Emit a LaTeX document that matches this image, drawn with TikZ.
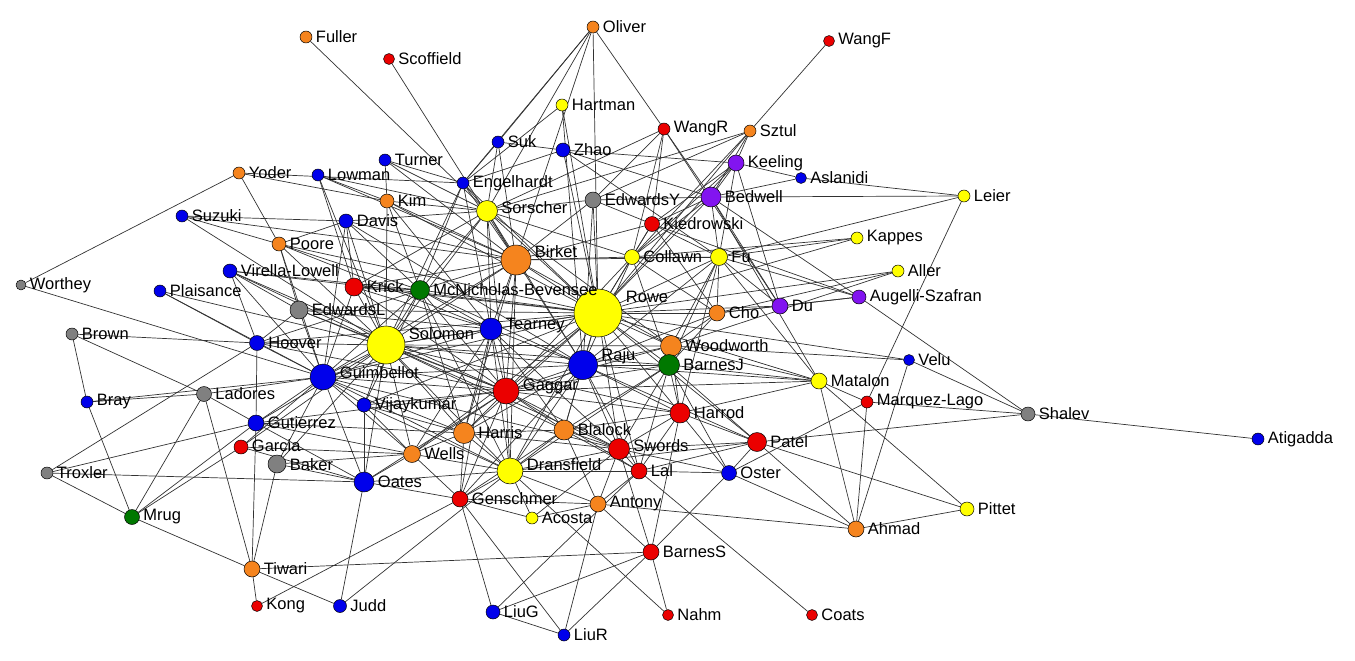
\documentclass[tikz,border=0pt]{standalone}
\usepackage{fontspec}
\setmainfont{Liberation Sans}
\usetikzlibrary{backgrounds,positioning}
\definecolor{cOrange}{RGB}{245,132,30}
\definecolor{cRed}{RGB}{235,0,0}
\definecolor{cBlue}{RGB}{0,0,235}
\definecolor{cYellow}{RGB}{255,255,0}
\definecolor{cGray}{RGB}{128,128,128}
\definecolor{cGreen}{RGB}{0,120,0}
\definecolor{cPurple}{RGB}{130,20,240}
\definecolor{cEdge}{RGB}{50,50,50}
\begin{document}
\begin{tikzpicture}[line cap=round,line join=round,x=1pt,y=-1pt,
  actor/.style={circle,draw=black,line width=0.5pt,inner sep=0pt},
  tie/.style={draw=cEdge,line width=0.7pt},
  lbl/.style={font=\fontsize{16.5}{18}\selectfont,inner sep=0.5pt,text=black}]
\useasboundingbox (0,0) rectangle (1355,661);
\node[actor,fill=cOrange,minimum size=12] (fuller) at (306,37) {};
\node[actor,fill=cRed,minimum size=11] (scoffield) at (389,59) {};
\node[actor,fill=cOrange,minimum size=12] (oliver) at (593,27) {};
\node[actor,fill=cRed,minimum size=11] (wangf) at (829,41) {};
\node[actor,fill=cYellow,minimum size=12] (hartman) at (562,105) {};
\node[actor,fill=cRed,minimum size=12] (wangr) at (664,129) {};
\node[actor,fill=cOrange,minimum size=12] (sztul) at (750,131) {};
\node[actor,fill=cBlue,minimum size=12] (suk) at (498,142) {};
\node[actor,fill=cBlue,minimum size=14] (zhao) at (563,150) {};
\node[actor,fill=cPurple,minimum size=16] (keeling) at (736,163) {};
\node[actor,fill=cBlue,minimum size=11] (aslanidi) at (801,178) {};
\node[actor,fill=cBlue,minimum size=12] (turner) at (385,160) {};
\node[actor,fill=cOrange,minimum size=12] (yoder) at (239,173) {};
\node[actor,fill=cBlue,minimum size=12] (lowman) at (318,175) {};
\node[actor,fill=cBlue,minimum size=12] (engelhardt) at (463,183) {};
\node[actor,fill=cPurple,minimum size=20] (bedwell) at (711,197) {};
\node[actor,fill=cYellow,minimum size=12] (leier) at (964,196) {};
\node[actor,fill=cOrange,minimum size=14] (kim) at (387,201) {};
\node[actor,fill=cGray,minimum size=16] (edwardsy) at (593,200) {};
\node[actor,fill=cYellow,minimum size=21] (sorscher) at (487,211) {};
\node[actor,fill=cBlue,minimum size=12] (suzuki) at (182,216) {};
\node[actor,fill=cBlue,minimum size=14] (davis) at (346,221) {};
\node[actor,fill=cRed,minimum size=15] (kiedrowski) at (652,224) {};
\node[actor,fill=cYellow,minimum size=12] (kappes) at (857,238) {};
\node[actor,fill=cOrange,minimum size=14] (poore) at (279,244) {};
\node[actor,fill=cOrange,minimum size=30] (birket) at (516,260) {};
\node[actor,fill=cYellow,minimum size=15] (collawn) at (632,257) {};
\node[actor,fill=cYellow,minimum size=17] (fu) at (719,257) {};
\node[actor,fill=cBlue,minimum size=14] (virella) at (230,271) {};
\node[actor,fill=cYellow,minimum size=12] (aller) at (898,271) {};
\node[actor,fill=cGray,minimum size=10] (worthey) at (21,285) {};
\node[actor,fill=cRed,minimum size=18] (krick) at (354,287) {};
\node[actor,fill=cGreen,minimum size=19] (mcn) at (420,290) {};
\node[actor,fill=cBlue,minimum size=12] (plaisance) at (160,291) {};
\node[actor,fill=cPurple,minimum size=14] (augelli) at (859,297) {};
\node[actor,fill=cPurple,minimum size=16] (du) at (780,306) {};
\node[actor,fill=cYellow,minimum size=48] (rowe) at (598,313) {};
\node[actor,fill=cGray,minimum size=18] (edwardsl) at (299,310) {};
\node[actor,fill=cOrange,minimum size=16] (cho) at (717,313) {};
\node[actor,fill=cBlue,minimum size=22] (tearney) at (491,329) {};
\node[actor,fill=cYellow,minimum size=38] (solomon) at (386,345) {};
\node[actor,fill=cGray,minimum size=12] (brown) at (72,334) {};
\node[actor,fill=cBlue,minimum size=15] (hoover) at (257,343) {};
\node[actor,fill=cOrange,minimum size=21] (woodworth) at (671,346) {};
\node[actor,fill=cBlue,minimum size=29] (raju) at (583,365) {};
\node[actor,fill=cGreen,minimum size=21] (barnesj) at (669,365) {};
\node[actor,fill=cBlue,minimum size=11] (velu) at (909,360) {};
\node[actor,fill=cBlue,minimum size=26] (guimbellot) at (323,377) {};
\node[actor,fill=cYellow,minimum size=16] (matalon) at (819,381) {};
\node[actor,fill=cRed,minimum size=26] (gaggar) at (506,391) {};
\node[actor,fill=cGray,minimum size=15] (ladores) at (204,394) {};
\node[actor,fill=cBlue,minimum size=12] (bray) at (87,402) {};
\node[actor,fill=cBlue,minimum size=14] (vijaykumar) at (364,405) {};
\node[actor,fill=cRed,minimum size=12] (marquez) at (867,402) {};
\node[actor,fill=cGray,minimum size=14] (shalev) at (1028,414) {};
\node[actor,fill=cRed,minimum size=20] (harrod) at (680,413) {};
\node[actor,fill=cBlue,minimum size=16] (gutierrez) at (256,423) {};
\node[actor,fill=cOrange,minimum size=21] (harris) at (464,433) {};
\node[actor,fill=cOrange,minimum size=20] (blalock) at (564,430) {};
\node[actor,fill=cBlue,minimum size=12] (atigadda) at (1258,439) {};
\node[actor,fill=cRed,minimum size=19] (patel) at (757,442) {};
\node[actor,fill=cRed,minimum size=14] (garcia) at (241,447) {};
\node[actor,fill=cRed,minimum size=21] (swords) at (619,449) {};
\node[actor,fill=cOrange,minimum size=17] (wells) at (412,454) {};
\node[actor,fill=cGray,minimum size=18] (baker) at (277,464) {};
\node[actor,fill=cYellow,minimum size=26] (dransfield) at (510,471) {};
\node[actor,fill=cRed,minimum size=16] (lal) at (639,471) {};
\node[actor,fill=cBlue,minimum size=15] (oster) at (729,473) {};
\node[actor,fill=cGray,minimum size=12] (troxler) at (47,473) {};
\node[actor,fill=cBlue,minimum size=20] (oates) at (364,482) {};
\node[actor,fill=cRed,minimum size=16] (genschmer) at (460,499) {};
\node[actor,fill=cOrange,minimum size=16] (antony) at (598,504) {};
\node[actor,fill=cYellow,minimum size=12] (acosta) at (532,518) {};
\node[actor,fill=cYellow,minimum size=14] (pittet) at (967,509) {};
\node[actor,fill=cOrange,minimum size=16] (ahmad) at (856,529) {};
\node[actor,fill=cGreen,minimum size=15] (mrug) at (132,517) {};
\node[actor,fill=cRed,minimum size=16] (barness) at (651,552) {};
\node[actor,fill=cOrange,minimum size=16] (tiwari) at (252,569) {};
\node[actor,fill=cRed,minimum size=11] (kong) at (257,606) {};
\node[actor,fill=cBlue,minimum size=13] (judd) at (340,606) {};
\node[actor,fill=cBlue,minimum size=14] (liug) at (493,612) {};
\node[actor,fill=cRed,minimum size=11] (nahm) at (668,615) {};
\node[actor,fill=cRed,minimum size=11] (coats) at (812,615) {};
\node[actor,fill=cBlue,minimum size=12] (liur) at (564,635) {};
\foreach \n/\t/\dy in {fuller/Fuller/0,scoffield/Scoffield/0,oliver/Oliver/0,wangf/WangF/0,hartman/Hartman/0,
  wangr/WangR/0,sztul/Sztul/0,suk/Suk/0,zhao/Zhao/0,keeling/Keeling/0,aslanidi/Aslanidi/0,turner/Turner/0,
  yoder/Yoder/0,lowman/Lowman/0,engelhardt/Engelhardt/0,bedwell/Bedwell/0,leier/Leier/0,kim/Kim/0,
  edwardsy/EdwardsY/0,sorscher/Sorscher/3,suzuki/Suzuki/0,davis/Davis/0,kiedrowski/Kiedrowski/0,kappes/Kappes/0,
  poore/Poore/0,birket/Birket/8,collawn/Collawn/0,fu/Fu/0,virella/Virella-Lowell/0,aller/Aller/0,
  worthey/Worthey/0,krick/Krick/0,mcn/McNicholas-Bevensee/0,plaisance/Plaisance/0,augelli/Augelli-Szafran/0,
  du/Du/0,rowe/Rowe/16,edwardsl/EdwardsL/0,cho/Cho/0,tearney/Tearney/3,solomon/Solomon/11,brown/Brown/0,
  hoover/Hoover/0,woodworth/Woodworth/0,raju/Raju/9,barnesj/BarnesJ/0,velu/Velu/0,guimbellot/Guimbellot/4,
  matalon/Matalon/0,gaggar/Gaggar/5,ladores/Ladores/0,bray/Bray/0,vijaykumar/Vijaykumar/0,marquez/Marquez-Lago/0,
  shalev/Shalev/0,harrod/Harrod/0,gutierrez/Gutierrez/0,harris/Harris/0,blalock/Blalock/0,atigadda/Atigadda/0,
  patel/Patel/0,garcia/Garcia/1,swords/Swords/3,wells/Wells/0,baker/Baker/-1,dransfield/Dransfield/6,lal/Lal/0,
  oster/Oster/0,troxler/Troxler/0,oates/Oates/0,genschmer/Genschmer/0,antony/Antony/0,acosta/Acosta/0,
  pittet/Pittet/0,ahmad/Ahmad/0,mrug/Mrug/0,barness/BarnesS/0,tiwari/Tiwari/0,kong/Kong/0,judd/Judd/0,
  liug/LiuG/0,nahm/Nahm/0,coats/Coats/0,liur/LiuR/0}
  \node[lbl,right=3pt of \n,yshift=\dy pt] (l\n) {\t};
\begin{pgfonlayer}{background}
\foreach \a/\b in {fuller/sorscher,scoffield/birket,oliver/sorscher,oliver/engelhardt,oliver/suk,oliver/wangr,oliver/rowe,oliver/birket,
  hartman/rowe,hartman/engelhardt,hartman/raju,wangf/sztul,
  wangr/bedwell,wangr/kiedrowski,wangr/collawn,wangr/sorscher,wangr/du,wangr/edwardsy,
  sztul/keeling,sztul/bedwell,sztul/collawn,sztul/sorscher,sztul/edwardsy,sztul/rowe,
  suk/engelhardt,suk/sorscher,suk/birket,suk/zhao,zhao/keeling,zhao/rowe,zhao/engelhardt,zhao/bedwell,zhao/fu,
  keeling/aslanidi,keeling/bedwell,keeling/fu,keeling/kiedrowski,keeling/du,keeling/collawn,keeling/rowe,
  bedwell/leier,aslanidi/leier,fu/leier,aslanidi/bedwell,
  bedwell/du,bedwell/augelli,bedwell/edwardsy,bedwell/fu,bedwell/kiedrowski,bedwell/collawn,bedwell/rowe,bedwell/matalon,
  turner/kim,turner/sorscher,turner/birket,turner/engelhardt,
  yoder/worthey,yoder/poore,yoder/kim,yoder/engelhardt,
  lowman/krick,lowman/kim,lowman/birket,lowman/sorscher,lowman/solomon,
  kim/birket,kim/sorscher,kim/solomon,kim/tearney,kim/rowe,kim/mcn,
  suzuki/davis,suzuki/poore,suzuki/solomon,suzuki/birket,
  davis/poore,davis/birket,davis/sorscher,davis/solomon,davis/krick,davis/guimbellot,davis/mcn,davis/raju,
  poore/solomon,poore/guimbellot,poore/rowe,poore/tearney,poore/mcn,poore/edwardsl,
  virella/solomon,virella/guimbellot,virella/mcn,virella/gaggar,virella/hoover,virella/edwardsl,virella/rowe,
  worthey/guimbellot,plaisance/hoover,plaisance/solomon,plaisance/guimbellot,
  krick/mcn,krick/solomon,krick/rowe,krick/guimbellot,krick/tearney,krick/birket,krick/sorscher,krick/gaggar,
  mcn/solomon,mcn/rowe,mcn/birket,mcn/sorscher,mcn/engelhardt,mcn/guimbellot,mcn/tearney,mcn/gaggar,mcn/raju,mcn/dransfield,mcn/harris,mcn/vijaykumar,mcn/hoover,
  edwardsl/solomon,edwardsl/guimbellot,edwardsl/rowe,edwardsl/hoover,edwardsl/gaggar,edwardsl/tearney,
  engelhardt/sorscher,engelhardt/birket,engelhardt/solomon,engelhardt/rowe,engelhardt/tearney,
  sorscher/birket,sorscher/rowe,sorscher/solomon,sorscher/tearney,sorscher/raju,sorscher/gaggar,sorscher/collawn,sorscher/edwardsy,sorscher/woodworth,
  edwardsy/rowe,edwardsy/birket,edwardsy/raju,edwardsy/kiedrowski,
  kiedrowski/collawn,kiedrowski/fu,kiedrowski/rowe,kiedrowski/birket,kiedrowski/cho,
  kappes/fu,kappes/collawn,kappes/rowe,aller/rowe,aller/cho,aller/woodworth,
  augelli/du,augelli/fu,augelli/shalev,augelli/cho,augelli/kiedrowski,du/cho,du/fu,du/rowe,
  birket/rowe,birket/solomon,birket/tearney,birket/raju,birket/gaggar,birket/guimbellot,birket/collawn,birket/fu,birket/woodworth,birket/dransfield,birket/harris,
  collawn/rowe,collawn/fu,collawn/raju,collawn/cho,collawn/barnesj,collawn/gaggar,
  fu/rowe,fu/cho,fu/woodworth,fu/raju,fu/matalon,fu/barnesj,fu/harrod,
  cho/rowe,cho/woodworth,cho/barnesj,cho/raju,
  rowe/solomon,rowe/tearney,rowe/raju,rowe/gaggar,rowe/guimbellot,rowe/woodworth,rowe/barnesj,rowe/harrod,rowe/blalock,rowe/swords,rowe/dransfield,rowe/harris,rowe/hoover,rowe/matalon,rowe/velu,rowe/patel,rowe/lal,rowe/vijaykumar,rowe/wells,
  tearney/solomon,tearney/raju,tearney/gaggar,tearney/guimbellot,tearney/harris,tearney/dransfield,tearney/blalock,tearney/genschmer,tearney/wells,tearney/swords,
  solomon/guimbellot,solomon/hoover,solomon/raju,solomon/gaggar,solomon/harris,solomon/blalock,solomon/dransfield,solomon/vijaykumar,solomon/wells,solomon/oates,solomon/gutierrez,solomon/swords,solomon/woodworth,solomon/barnesj,solomon/harrod,solomon/baker,solomon/garcia,
  hoover/guimbellot,hoover/brown,hoover/troxler,hoover/gutierrez,hoover/gaggar,
  guimbellot/gaggar,guimbellot/vijaykumar,guimbellot/gutierrez,guimbellot/oates,guimbellot/harris,guimbellot/wells,guimbellot/garcia,guimbellot/baker,guimbellot/ladores,guimbellot/bray,guimbellot/dransfield,guimbellot/raju,guimbellot/swords,
  raju/gaggar,raju/woodworth,raju/barnesj,raju/harrod,raju/blalock,raju/swords,raju/dransfield,raju/harris,raju/lal,raju/patel,raju/matalon,raju/genschmer,
  woodworth/barnesj,woodworth/matalon,woodworth/velu,woodworth/harrod,woodworth/gaggar,
  barnesj/matalon,barnesj/harrod,barnesj/swords,barnesj/lal,barnesj/patel,barnesj/gaggar,barnesj/dransfield,barnesj/blalock,barnesj/oster,
  velu/shalev,velu/ahmad,matalon/marquez,matalon/ahmad,matalon/pittet,matalon/harrod,matalon/gaggar,
  marquez/shalev,marquez/ahmad,marquez/leier,marquez/oster,shalev/atigadda,shalev/patel,
  harrod/patel,harrod/swords,harrod/oster,harrod/barness,harrod/gaggar,harrod/lal,harrod/blalock,
  patel/swords,patel/lal,patel/ahmad,patel/pittet,patel/oster,patel/dransfield,
  gaggar/harris,gaggar/blalock,gaggar/dransfield,gaggar/swords,gaggar/vijaykumar,gaggar/wells,gaggar/genschmer,gaggar/lal,gaggar/oates,
  ladores/brown,ladores/bray,ladores/mrug,ladores/tiwari,ladores/gutierrez,bray/brown,bray/mrug,
  vijaykumar/wells,vijaykumar/oates,vijaykumar/harris,vijaykumar/dransfield,
  gutierrez/mrug,gutierrez/troxler,gutierrez/tiwari,gutierrez/oates,gutierrez/harris,gutierrez/wells,gutierrez/gaggar,
  harris/blalock,harris/dransfield,harris/wells,harris/genschmer,harris/swords,
  blalock/dransfield,blalock/swords,blalock/lal,blalock/antony,blalock/genschmer,
  garcia/mrug,garcia/wells,garcia/oates,
  swords/lal,swords/dransfield,swords/oster,swords/antony,swords/barness,
  wells/oates,wells/dransfield,wells/genschmer,wells/baker,baker/tiwari,baker/oates,
  dransfield/lal,dransfield/genschmer,dransfield/antony,dransfield/acosta,dransfield/judd,dransfield/nahm,dransfield/oates,
  lal/oster,lal/coats,lal/antony,oster/barness,oster/ahmad,troxler/mrug,troxler/oates,
  oates/genschmer,oates/judd,genschmer/acosta,genschmer/antony,genschmer/liug,genschmer/liur,genschmer/kong,
  antony/ahmad,antony/barness,antony/liur,antony/acosta,acosta/swords,mrug/tiwari,
  tiwari/kong,tiwari/judd,tiwari/barness,barness/liug,barness/liur,barness/nahm,liug/liur,liug/lal,pittet/ahmad}
  \draw[tie] (\a) -- (\b);
\end{pgfonlayer}
\end{tikzpicture}
\end{document}
